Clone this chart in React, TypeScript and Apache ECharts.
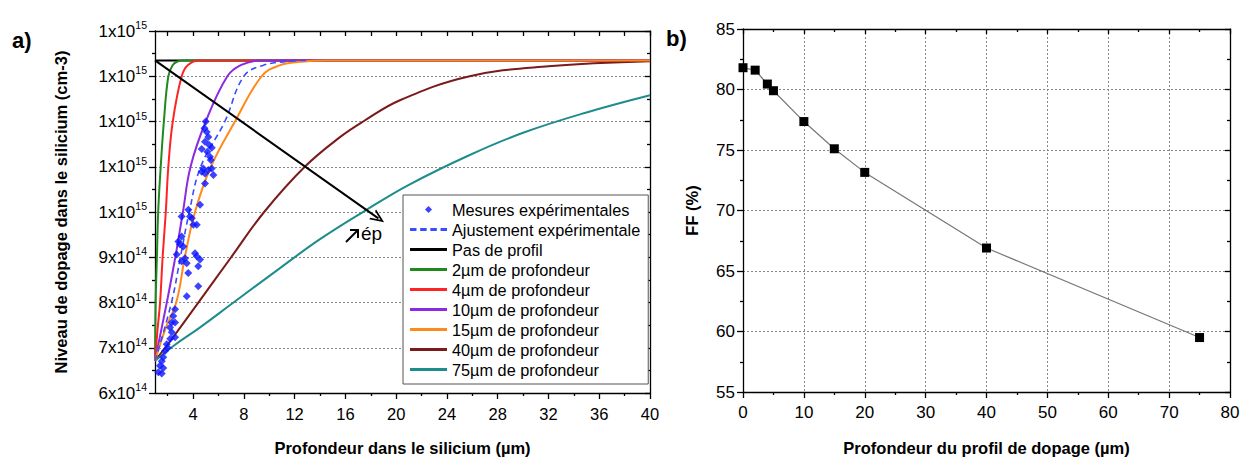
import React, { useEffect, useRef } from "react";
import * as echarts from "echarts";

// ---------- Left chart (a) : doping level (x10^14 cm-3) vs depth (µm) ----------
const measX = [5.07, 5.2, 4.94, 4.68, 5.28, 5.12, 5.33, 5.47, 5.39, 4.8, 4.68, 4.94, 5.2, 5.47, 5.6, 4.94, 4.55, 3.63, 3.9, 3.1,
  3.76, 4.02, 4.29, 3.1, 2.97, 2.84, 3.23, 2.71, 3.36, 3.5, 3.1, 4.15, 4.29, 4.55, 4.41, 3.62, 4.41, 3.5,
  2.58, 2.44, 2.32, 2.18, 2.58, 2.32, 2.58, 1.92, 1.79, 1.65, 1.53, 1.39, 1.65, 1.26, 1.53, 2.2, 2.0, 4.9, 5.0];
const measY = [11.77, 11.66, 11.55, 11.39, 11.48, 11.33, 11.22, 11.42, 11.15, 10.96, 10.89, 10.85, 10.93, 10.96, 10.82, 10.63, 10.16, 10.05, 9.86, 9.9,
  9.9, 9.72, 9.72, 9.46, 9.28, 9.35, 9.24, 9.06, 8.98, 8.87, 8.91, 9.09, 9.02, 8.95, 8.8, 8.65, 8.36, 8.14,
  7.85, 7.7, 7.56, 7.45, 7.56, 7.34, 7.23, 7.08, 6.93, 6.79, 6.7, 6.6, 6.55, 6.46, 6.43, 7.2, 7.0, 11.85, 12.0];

const fitX = [1, 2.3, 3.0, 3.7, 4.6, 6.5, 8.0, 9.5, 11.5, 13];
const fitY = [6.71, 8.0, 9.0, 10.0, 11.0, 12.0, 13.0, 13.24, 13.33, 13.35];

const flatX = [1, 40];
const flatY = [13.35, 13.35];

const p2X = [1, 1.05, 1.15, 1.25, 1.45, 1.7, 2.05, 2.4, 2.8, 3.2, 40];
const p2Y = [6.71, 8.0, 9.0, 10.0, 11.0, 12.0, 13.0, 13.25, 13.33, 13.35, 13.35];

const p4X = [1, 1.2, 1.4, 1.6, 1.85, 2.05, 2.4, 3.1, 3.6, 4.5, 40];
const p4Y = [6.71, 7.4, 8.0, 9.0, 10.0, 11.0, 12.0, 13.0, 13.25, 13.35, 13.35];

const p10X = [1, 1.5, 2.0, 2.6, 3.2, 3.8, 5.0, 6.7, 7.8, 9.3, 40];
const p10Y = [6.71, 7.4, 8.1, 9.0, 10.0, 11.0, 12.0, 13.0, 13.25, 13.35, 13.35];

const p15X = [1, 1.8, 2.7, 3.35, 4.15, 5.4, 7.3, 9.4, 10.8, 12.5, 14.5, 40];
const p15Y = [6.71, 7.4, 8.03, 9.0, 10.0, 11.0, 12.0, 13.0, 13.24, 13.32, 13.35, 13.35];

const p40X = [1, 2.5, 4.5, 7, 9.6, 12.8, 15.6, 17.4, 20.3, 25.8, 32, 40];
const p40Y = [6.71, 7.26, 8.03, 9.0, 10.0, 11.0, 11.66, 12.0, 12.47, 13.0, 13.22, 13.33];

const p75X = [1, 2.5, 4.5, 7, 10.85, 14, 17.5, 21, 25.8, 30, 35, 40];
const p75Y = [6.71, 7.05, 7.44, 7.96, 8.76, 9.4, 10.02, 10.6, 11.26, 11.75, 12.2, 12.58];

const arrowStart = [1, 13.35];
const arrowEnd = [18.6, 9.86];

const leftXLabels = [4, 8, 12, 16, 20, 24, 28, 32, 36, 40];
const leftXMinor = [2, 6, 10, 14, 18, 22, 26, 30, 34, 38];
const leftXAll = [2, 4, 6, 8, 10, 12, 14, 16, 18, 20, 22, 24, 26, 28, 30, 32, 34, 36, 38, 40];

// ---------- Right chart (b) : FF (%) vs profile depth (µm) ----------
const ffDepth = [0, 2, 4, 5, 10, 15, 20, 40, 75];
const ffValue = [81.8, 81.6, 80.45, 79.9, 77.35, 75.1, 73.15, 66.9, 59.5];

const FONT = "'Liberation Sans', Arial, sans-serif";

function zip(xs: number[], ys: number[]) {
  return xs.map((x, i) => [x, ys[i]]);
}

function sciLabel(v: number) {
  const val = Math.round(v * 10) / 10 * 1e14;
  const exp = Math.floor(Math.log10(val) + 1e-9);
  const m = Math.round(val / Math.pow(10, exp));
  return `{m|${m}x10}{e|${exp}}`;
}

const chevron = "path://M0,10 L5,0 L10,10 L8.4,10 L5,3.2 L1.6,10 Z";
const solidIcon = "path://M0,0H40V3H0Z";
const dashIcon = "path://M0,0H7V3H0Z M11,0H18V3H11Z M22,0H29V3H22Z M33,0H40V3H33Z";
const diamondIcon = "path://M3,0L6,3L3,6L0,3Z";

export default function App() {
  const ref = useRef<HTMLDivElement>(null);
  useEffect(() => {
    if (!ref.current) return;
    const chart = echarts.init(ref.current, undefined, { renderer: "svg" });
    const axisLineStyle = { color: "#000", width: 1.3 };
    const lineSeries = (name: string, xs: number[], ys: number[], color: string, extra: any = {}) => ({
      name,
      type: "line",
      xAxisIndex: 0,
      yAxisIndex: 0,
      data: zip(xs, ys),
      symbol: "none",
      smooth: 0.4,
      lineStyle: { color, width: 2 },
      itemStyle: { color },
      ...extra,
    });

    const option: any = {
      animation: false,
      textStyle: { fontFamily: FONT, color: "#000" },
      grid: [
        { left: 155, top: 31, width: 495, height: 362, show: false, containLabel: false, outerBoundsMode: "none" },
        { left: 743, top: 29, width: 487, height: 363, show: false, containLabel: false, outerBoundsMode: "none" },
      ],
      legend: {
        orient: "vertical",
        left: 403,
        top: 195,
        padding: [6, 8, 6, 7],
        itemWidth: 37,
        itemHeight: 7,
        itemGap: 3,
        backgroundColor: "#fff",
        borderColor: "#555",
        borderWidth: 1,
        borderRadius: 0,
        itemStyle: { borderWidth: 0 },
        lineStyle: { width: 0 },
        textStyle: { fontSize: 16.3, color: "#000", fontFamily: FONT, lineHeight: 17 },
        data: [
          { name: "Mesures expérimentales", icon: diamondIcon },
          { name: "Ajustement expérimentale", icon: dashIcon },
          { name: "Pas de profil", icon: solidIcon },
          { name: "2µm de profondeur", icon: solidIcon },
          { name: "4µm de profondeur", icon: solidIcon },
          { name: "10µm de profondeur", icon: solidIcon },
          { name: "15µm de profondeur", icon: solidIcon },
          { name: "40µm de profondeur", icon: solidIcon },
          { name: "75µm de profondeur", icon: solidIcon },
        ],
      },
      xAxis: [
        {
          gridIndex: 0,
          type: "value",
          min: 1,
          max: 40,
          position: "bottom",
          axisLine: { onZero: false, lineStyle: axisLineStyle },
          axisTick: { customValues: leftXLabels, length: 6, lineStyle: axisLineStyle },
          axisLabel: { customValues: leftXLabels, fontSize: 16.5, color: "#000", margin: 12, fontFamily: FONT },
          splitLine: { show: false },
          name: "Profondeur dans le silicium (µm)",
          nameLocation: "middle",
          nameGap: 46,
          nameTextStyle: { fontSize: 16.5, fontWeight: "bold", color: "#000", fontFamily: FONT },
        },
        {
          gridIndex: 0,
          type: "value",
          min: 1,
          max: 40,
          position: "bottom",
          axisLine: { show: false, onZero: false },
          axisTick: { customValues: leftXMinor, length: 3, lineStyle: axisLineStyle },
          axisLabel: { show: false },
          splitLine: { show: false },
        },
        {
          gridIndex: 0,
          type: "value",
          min: 1,
          max: 40,
          position: "top",
          axisLine: { onZero: false, lineStyle: axisLineStyle },
          axisTick: { customValues: leftXAll, inside: true, length: 5, lineStyle: axisLineStyle },
          axisLabel: { show: false },
          splitLine: { show: false },
        },
        {
          gridIndex: 1,
          type: "value",
          min: 0,
          max: 80,
          interval: 10,
          position: "bottom",
          axisLine: { onZero: false, lineStyle: axisLineStyle },
          axisTick: { length: 6, lineStyle: axisLineStyle },
          minorTick: { show: true, splitNumber: 2, length: 3, lineStyle: axisLineStyle },
          axisLabel: { fontSize: 17, color: "#000", margin: 12, fontFamily: FONT },
          splitLine: { show: true, lineStyle: { type: [2, 2], color: "#888", width: 1 } },
          name: "Profondeur du profil de dopage (µm)",
          nameLocation: "middle",
          nameGap: 47,
          nameTextStyle: { fontSize: 16.5, fontWeight: "bold", color: "#000", fontFamily: FONT },
        },
        {
          gridIndex: 1,
          type: "value",
          min: 0,
          max: 80,
          interval: 10,
          position: "top",
          axisLine: { onZero: false, lineStyle: axisLineStyle },
          axisTick: { inside: true, length: 5, lineStyle: axisLineStyle },
          minorTick: { show: true, splitNumber: 2, length: 3, lineStyle: axisLineStyle },
          axisLabel: { show: false },
          splitLine: { show: false },
        },
      ],
      yAxis: [
        {
          gridIndex: 0,
          type: "value",
          min: 6,
          max: 14,
          interval: 1,
          position: "left",
          axisLine: { onZero: false, lineStyle: axisLineStyle },
          axisTick: { length: 6, lineStyle: axisLineStyle },
          minorTick: { show: true, splitNumber: 2, length: 3, lineStyle: axisLineStyle },
          axisLabel: {
            formatter: (v: number) => sciLabel(v),
            margin: 8,
            rich: {
              m: { fontSize: 17, color: "#000", fontFamily: FONT },
              e: { fontSize: 10.5, color: "#000", fontFamily: FONT, padding: [0, 0, 12, 0] },
            },
          },
          splitLine: { show: true, lineStyle: { type: [2, 2], color: "#888", width: 1 } },
          name: "Niveau de dopage dans le silicium (cm-3)",
          nameLocation: "middle",
          nameGap: 86,
          nameTextStyle: { fontSize: 16.5, fontWeight: "bold", color: "#000", fontFamily: FONT },
        },
        {
          gridIndex: 0,
          type: "value",
          min: 6,
          max: 14,
          interval: 1,
          position: "right",
          axisLine: { onZero: false, lineStyle: axisLineStyle },
          axisTick: { inside: true, length: 5, lineStyle: axisLineStyle },
          minorTick: { show: true, splitNumber: 2, length: 3, lineStyle: axisLineStyle },
          axisLabel: { show: false },
          splitLine: { show: false },
        },
        {
          gridIndex: 1,
          type: "value",
          min: 55,
          max: 85,
          interval: 5,
          position: "left",
          axisLine: { onZero: false, lineStyle: axisLineStyle },
          axisTick: { length: 6, lineStyle: axisLineStyle },
          minorTick: { show: true, splitNumber: 2, length: 3, lineStyle: axisLineStyle },
          axisLabel: { fontSize: 17, color: "#000", margin: 8, fontFamily: FONT },
          splitLine: { show: true, lineStyle: { type: [2, 2], color: "#888", width: 1 } },
          name: "FF (%)",
          nameLocation: "middle",
          nameGap: 43,
          nameTextStyle: { fontSize: 16.5, fontWeight: "bold", color: "#000", fontFamily: FONT },
        },
        {
          gridIndex: 1,
          type: "value",
          min: 55,
          max: 85,
          interval: 5,
          position: "right",
          axisLine: { onZero: false, lineStyle: axisLineStyle },
          axisTick: { inside: true, length: 5, lineStyle: axisLineStyle },
          minorTick: { show: true, splitNumber: 2, length: 3, lineStyle: axisLineStyle },
          axisLabel: { show: false },
          splitLine: { show: false },
        },
      ],
      series: [
        lineSeries("Pas de profil", flatX, flatY, "#000", {
          smooth: false,
          z: 2,
          markLine: {
            silent: true,
            symbol: ["none", chevron],
            symbolSize: [12, 14],
            label: { show: false },
            lineStyle: { color: "#000", width: 2, type: "solid" },
            data: [[{ coord: arrowStart }, { coord: arrowEnd }]],
            z: 10,
          },
        }),
        lineSeries("2µm de profondeur", p2X, p2Y, "#1e8a1e", { z: 3 }),
        lineSeries("4µm de profondeur", p4X, p4Y, "#ff2424", { z: 3 }),
        lineSeries("10µm de profondeur", p10X, p10Y, "#8a2be2", { z: 3 }),
        lineSeries("15µm de profondeur", p15X, p15Y, "#ff8a1c", { z: 4 }),
        lineSeries("40µm de profondeur", p40X, p40Y, "#7a1a1a", { z: 3 }),
        lineSeries("75µm de profondeur", p75X, p75Y, "#1f8c8c", { z: 3 }),
        lineSeries("Ajustement expérimentale", fitX, fitY, "#3a4cff", {
          z: 5,
          lineStyle: { color: "#3a4cff", width: 1.6, type: [6, 4] },
        }),
        {
          name: "Mesures expérimentales",
          type: "scatter",
          xAxisIndex: 0,
          yAxisIndex: 0,
          data: zip(measX, measY),
          symbol: "diamond",
          symbolSize: 8,
          itemStyle: { color: "#0a14ff" },
          z: 6,
        },
        {
          name: "FF",
          type: "line",
          xAxisIndex: 3,
          yAxisIndex: 2,
          data: zip(ffDepth, ffValue),
          symbol: "rect",
          symbolSize: 9,
          itemStyle: { color: "#000" },
          lineStyle: { color: "#777", width: 1.2 },
          z: 5,
        },
      ],
      graphic: [
        { type: "text", left: 12, top: 29, style: { text: "a)", fontSize: 22, fontWeight: "bold", fontFamily: FONT, fill: "#000" } },
        { type: "text", left: 666, top: 27, style: { text: "b)", fontSize: 22, fontWeight: "bold", fontFamily: FONT, fill: "#000" } },
        { type: "line", shape: { x1: 346, y1: 242, x2: 358, y2: 230 }, style: { stroke: "#000", lineWidth: 2 } },
        { type: "polyline", shape: { points: [[350, 230], [358, 230], [358, 238]] }, style: { stroke: "#000", lineWidth: 2, fill: "none" } },
        { type: "text", left: 361, top: 224, style: { text: "ép", fontSize: 19, fontFamily: FONT, fill: "#000" } },
      ],
    };
    chart.setOption(option);
    return () => chart.dispose();
  }, []);
  return (
    <div
      ref={ref}
      style={{ position: "fixed", left: 0, top: 0, width: 1250, height: 459, background: "#fff" }}
    />
  );
}
